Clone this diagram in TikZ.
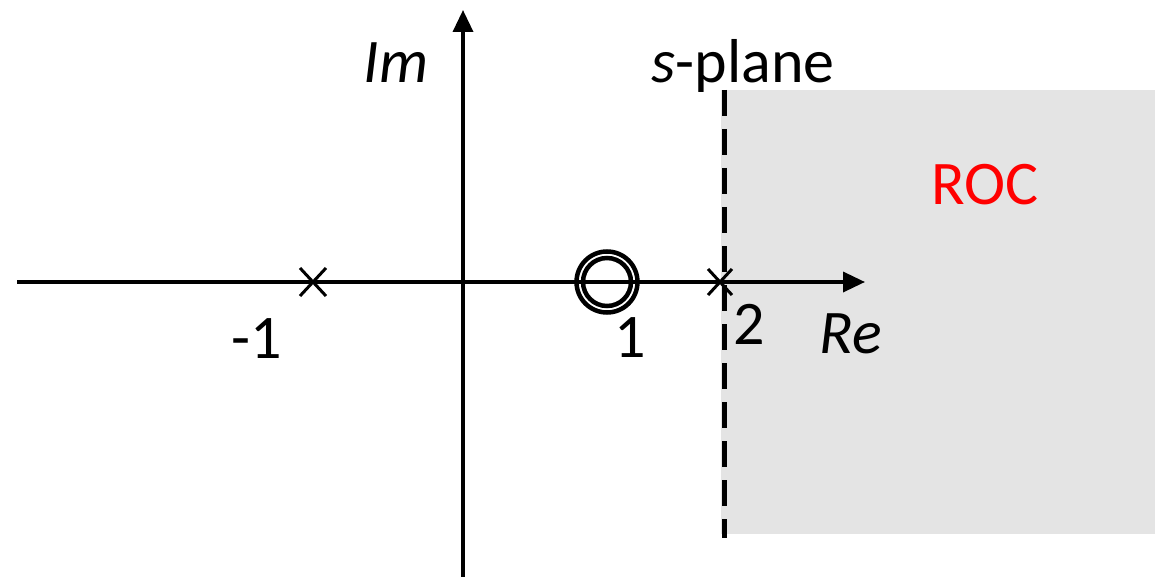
\documentclass[tikz,border=0pt]{standalone}
\usepackage{fontspec}
\setmainfont{Carlito}
\usetikzlibrary{arrows.meta,calc}
\definecolor{rocgray}{HTML}{E4E4E4}
\definecolor{rocred}{HTML}{FF0000}
\tikzset{
  axis/.style={line width=3.5pt,-{Triangle[length=22pt,width=20pt]}},
  lbl/.style={inner sep=0pt,anchor=base,font=\fontsize{62}{62}\selectfont},
  polemark/.style={line width=3pt},
  bound/.style={line width=5pt,dash pattern=on 26pt off 13pt},
  zeroring/.style={line width=4.5pt},
}
\begin{document}
\begin{tikzpicture}[x=1pt,y=-1pt]
\useasboundingbox (0,0) rectangle (1155,577);
\fill[rocgray] (721,90) rectangle (1155,534);
\coordinate (xs) at (17,282);
\coordinate (xe) at (865,282);
\coordinate (ys) at (463,577);
\coordinate (ye) at (463,10);
\draw[axis] (xs) -- (xe);
\draw[axis] (ys) -- (ye);
\coordinate (dtop) at (724,90);
\coordinate (dbot) at (724,538);
\draw[bound] (dtop) -- (dbot);
% poles
\coordinate (p1) at (313,282);
\coordinate (p2) at (720,282);
\draw[polemark] ($(p1)+(-13,-14)$) -- ($(p1)+(13,14)$) ($(p1)+(13,-14)$) -- ($(p1)+(-13,14)$);
\draw[polemark] ($(p2)+(-12,-13)$) -- ($(p2)+(12,13)$) ($(p2)+(12,-13)$) -- ($(p2)+(-12,13)$);
% zero
\coordinate (z) at (607,282);
\draw[zeroring] (z) circle (30.5);
\draw[zeroring] (z) circle (24);
% labels
\node[lbl] (im) at (396,83) {\itshape Im};
\node[lbl] (sp) at (743,83) {\itshape s\upshape -plane};
\node[lbl] (m1) at (257,358) {-1};
\node[lbl] (one) at (630,357) {1};
\node[lbl] (two) at (749,344) {2};
\node[lbl] (re) at (851,353) {\itshape Re};
\node[lbl,text=rocred] (roc) at (985,205) {ROC};
\end{tikzpicture}
\end{document}
